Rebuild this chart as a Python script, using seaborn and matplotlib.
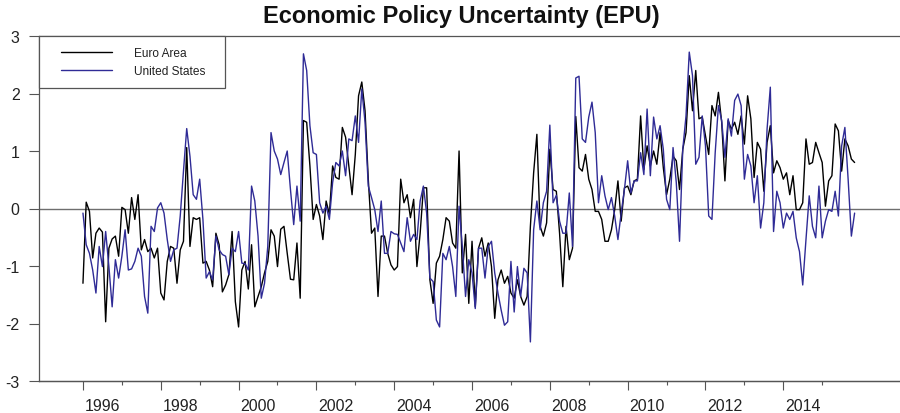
import numpy as np
import pandas as pd
import matplotlib
matplotlib.use("Agg")
import matplotlib.pyplot as plt
from matplotlib.lines import Line2D
from matplotlib.legend_handler import HandlerLine2D
import seaborn as sns

# Monthly standardised EPU index, starting January 1996
start_year = 1996

euro_area = [
    -1.30, 0.11, -0.05, -0.86, -0.43, -0.34, -0.41, -1.97, -0.69, -0.53, -0.48, -0.83,  # 1996
    0.02, -0.02, -0.43, 0.19, -0.19, 0.24, -0.72, -0.54, -0.75, -0.69, -0.86, -0.69,    # 1997
    -1.47, -1.59, -0.92, -0.66, -0.69, -1.30, -0.72, -0.57, 1.06, -0.66, -0.16, -0.19,  # 1998
    -0.16, -0.95, -0.92, -1.07, -1.36, -0.43, -0.63, -1.45, -1.33, -1.15, -0.40, -1.62, # 1999
    -2.06, -1.07, -0.92, -1.40, -0.63, -1.71, -1.53, -1.36, -1.12, -0.92, -0.37, -0.48, # 2000
    -1.01, -0.36, -0.31, -0.78, -1.23, -1.24, -0.60, -1.56, 1.53, 1.50, 0.74, -0.19,    # 2001
    0.07, -0.13, -0.54, 0.13, -0.10, 0.74, 0.54, 0.51, 1.41, 1.24, 0.74, 0.24,          # 2002
    0.94, 1.96, 2.20, 1.70, 0.51, -0.43, -0.34, -1.53, -0.48, -0.48, -0.78, -0.98,      # 2003
    -1.07, -1.01, 0.51, 0.10, 0.24, -0.16, 0.16, -1.01, -0.43, 0.36, 0.36, -1.24,       # 2004
    -1.65, -0.95, -0.83, -0.54, -0.16, -0.22, -0.60, -0.69, 1.00, -1.12, -0.45, -1.65,  # 2005
    -0.57, -1.71, -0.69, -0.51, -0.83, -0.60, -1.01, -1.91, -1.24, -1.07, -1.30, -1.18, # 2006
    -1.47, -1.56, -1.24, -1.53, -1.68, -1.53, -0.31, 0.62, 1.29, -0.31, -0.48, -0.25,   # 2007
    1.03, 0.33, 0.30, -0.43, -1.36, -0.31, -0.89, -0.69, 1.60, 0.71, 0.65, 0.94,        # 2008
    0.51, 0.33, -0.05, -0.05, -0.19, -0.57, -0.57, -0.37, -0.02, 0.48, -0.22, 0.36,     # 2009
    0.39, 0.24, 0.48, 0.51, 1.61, 0.68, 1.09, 0.74, 1.00, 0.77, 1.32, 0.71,             # 2010
    0.24, 0.51, 0.91, 0.83, 0.33, 1.03, 1.32, 2.31, 1.70, 2.40, 1.56, 1.59,             # 2011
    1.26, 0.94, 1.79, 1.61, 2.02, 1.50, 0.48, 1.53, 1.38, 1.50, 1.29, 1.61,             # 2012
    1.12, 1.96, 1.56, 0.54, 1.15, 1.03, 0.30, 1.15, 1.44, 0.62, 0.83, 0.71,             # 2013
    0.51, 0.62, 0.24, 0.57, -0.02, -0.02, 0.10, 1.21, 0.77, 0.80, 1.15, 0.97,           # 2014
    0.80, 0.04, 0.48, 0.57, 1.47, 1.35, 0.65, 1.21, 1.09, 0.86, 0.80,                   # 2015
]

united_states = [
    -0.08, -0.63, -0.78, -1.07, -1.47, -0.66, -1.01, -0.40, -1.01, -1.71, -0.89, -1.21, # 1996
    -0.83, -0.37, -1.07, -1.05, -0.92, -0.69, -0.83, -1.53, -1.82, -0.31, -0.40, 0.01,  # 1997
    0.10, -0.08, -0.54, -0.92, -0.72, -0.69, -0.13, 0.65, 1.39, 0.91, 0.24, 0.16,       # 1998
    0.51, -0.19, -1.21, -1.10, -1.24, -0.48, -0.72, -0.80, -0.83, -1.15, -0.69, -0.75,  # 1999
    -0.40, -0.95, -0.96, -1.07, 0.39, 0.13, -0.48, -1.56, -1.30, -0.66, 1.32, 1.00,     # 2000
    0.86, 0.59, 0.80, 1.00, 0.33, -0.28, 0.39, -0.22, 2.69, 2.40, 1.44, 0.97,           # 2001
    0.94, 0.10, -0.08, 0.04, -0.19, 0.45, 0.80, 0.74, 1.00, 0.57, 1.21, 1.18,           # 2002
    1.61, 1.15, 2.08, 1.50, 0.39, 0.19, -0.02, -0.40, 0.13, -0.78, -0.78, -0.40,        # 2003
    -0.44, -0.45, -0.60, -0.75, -0.16, -0.57, -0.45, -0.54, 0.13, 0.39, -0.08, -1.21,   # 2004
    -1.27, -1.94, -2.06, -0.78, -0.89, -0.66, -1.01, -1.53, 0.04, -0.66, -1.53, -0.89,  # 2005
    -1.12, -1.74, -0.69, -0.69, -1.21, -0.66, -0.57, -1.12, -1.47, -1.77, -2.03, -1.97, # 2006
    -0.92, -1.80, -1.01, -1.53, -1.04, -1.12, -2.32, -0.37, 0.13, -0.37, 0.10, 0.30,    # 2007
    1.45, 0.10, 0.23, -0.22, -0.43, -0.43, 0.27, -0.66, 2.27, 2.30, 1.21, 1.15,         # 2008
    1.59, 1.85, 1.32, 0.10, 0.57, 0.22, -0.02, 0.19, -0.13, -0.54, -0.08, 0.33,         # 2009
    0.83, 0.27, 0.48, 0.48, 0.97, 0.59, 1.73, 0.57, 1.59, 1.21, 1.44, 1.03,             # 2010
    0.16, -0.02, 1.06, 0.45, -0.57, 1.03, 1.61, 2.72, 2.31, 0.77, 0.89, 1.61,           # 2011
    1.09, -0.13, -0.19, 0.97, 1.79, 1.53, 0.89, 1.56, 1.26, 1.88, 1.99, 1.79,           # 2012
    0.51, 0.94, 0.74, 0.10, 0.57, -0.34, 0.10, 1.38, 2.11, -0.40, 0.30, 0.10,           # 2013
    -0.34, -0.08, -0.19, -0.05, -0.51, -0.75, -1.33, -0.54, 0.22, -0.31, -0.51, 0.39,   # 2014
    -0.51, -0.22, -0.02, -0.05, 0.30, -0.13, 1.09, 1.41, 0.51, -0.48, -0.08,            # 2015
]

series_names = ["Euro Area", "United States"]
series_colors = ["#000000", "#2f2b96"]
year_labels = list(range(1996, 2015, 2))
minor_years = list(range(1997, 2016, 2))
y_ticks = [-3, -2, -1, 0, 1, 2, 3]
title = "Economic Policy Uncertainty (EPU)"

n = len(euro_area)
time = start_year + np.arange(n) / 12.0
df = pd.DataFrame({
    "time": np.concatenate([time, time]),
    "value": euro_area + united_states,
    "series": [series_names[0]] * n + [series_names[1]] * n,
})

sns.set_theme(style="white")
plt.rcParams["font.family"] = ["Liberation Sans", "DejaVu Sans"]

W, H = 900, 414
fig = plt.figure(figsize=(W / 100, H / 100), dpi=100)
left, right, top, bottom = 39, 900, 37, 382
ax = fig.add_axes([left / W, 1 - bottom / H, (right - left) / W, (bottom - top) / H])

ax.axhline(0, color="#6e6e6e", lw=1.0, zorder=1)
sns.lineplot(data=df, x="time", y="value", hue="series",
             palette=dict(zip(series_names, series_colors)),
             linewidth=1.0, ax=ax, legend=False, zorder=2)

ax.set_xlim(1994.87, 2017.0)
ax.set_ylim(-3, 3)
ax.set_xlabel("")
ax.set_ylabel("")
ax.grid(False)

spine_col = "#555555"
text_col = "#222222"

# year labels centred on the middle of each labelled year
ax.set_xticks([y + 0.5 for y in year_labels])
ax.set_xticklabels([str(y) for y in year_labels])
ax.tick_params(axis="x", which="major", bottom=True, length=0, pad=12,
               labelsize=11.5, labelcolor=text_col)

# tick marks at January: long on even years, short on odd years
marks = ax.secondary_xaxis("bottom")
marks.set_xticks(year_labels)
marks.set_xticklabels([])
marks.set_xticks(minor_years, minor=True)
marks.tick_params(axis="x", which="major", bottom=True, direction="out",
                  length=6.5, width=0.8, color=spine_col)
marks.tick_params(axis="x", which="minor", bottom=True, direction="out",
                  length=3.2, width=0.8, color=spine_col)
marks.spines["bottom"].set_color(spine_col)
marks.spines["bottom"].set_linewidth(0.9)

ax.set_yticks(y_ticks)
ax.set_yticklabels([str(v) for v in y_ticks])
ax.tick_params(axis="y", which="major", left=True, direction="out", length=7,
               width=0.8, color=spine_col, pad=7, labelsize=11.5, labelcolor=text_col)

for side in ["left", "bottom", "top"]:
    ax.spines[side].set_visible(True)
    ax.spines[side].set_color(spine_col)
    ax.spines[side].set_linewidth(0.9)
ax.spines["right"].set_visible(False)

handles = [Line2D([], [], color=c, lw=1.0) for c in series_colors]
leg = ax.legend(handles, series_names, loc="upper left",
                bbox_to_anchor=(0, 0, 186 / (right - left), 1), mode="expand",
                borderaxespad=0, fontsize=8.6, handlelength=5.2, handletextpad=1.8,
                borderpad=0.95, labelspacing=0.45, frameon=True, fancybox=False,
                framealpha=1, edgecolor=spine_col,
                handler_map={Line2D: HandlerLine2D(xpad=0.85)})
leg.get_frame().set_linewidth(0.9)
for t in leg.get_texts():
    t.set_color(text_col)

fig.text(461 / W, 1 - 17 / H, title, ha="center", va="center",
         fontsize=17, fontweight="bold", color="#111111")

fig.savefig("out.png", dpi=100)
